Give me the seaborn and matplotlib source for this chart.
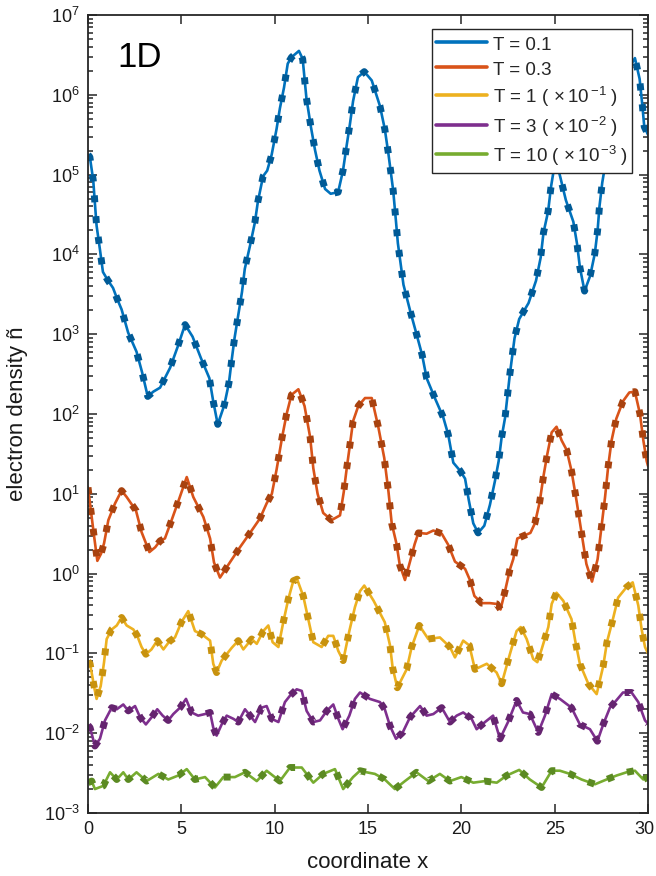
import numpy as np
import pandas as pd
import matplotlib
matplotlib.use("Agg")
import matplotlib.pyplot as plt
import seaborn as sns
from matplotlib.transforms import ScaledTranslation
from matplotlib.ticker import NullFormatter, FixedLocator, LogFormatterSciNotation

# ---- data: log10 of electron density along the 1D coordinate ----
x_T01 = [0.0, 0.1, 0.28, 0.37, 0.46, 0.64, 0.8, 1.05, 1.34, 1.55, 1.8, 2.15, 2.6, 2.9, 3.2, 3.5, 3.86,
         4.4, 4.8, 5.2, 5.6, 6.05, 6.5, 6.7, 6.95, 7.3, 7.55, 7.7, 7.85, 8.05, 8.25, 8.4, 8.68, 8.94,
         9.1, 9.38, 9.6, 9.84, 10.1, 10.28, 10.5, 10.7, 10.9, 11.3, 11.5, 11.7, 11.94, 12.16, 12.4,
         12.7, 13.0, 13.4, 13.66, 13.86, 14.03, 14.2, 14.46, 14.8, 15.2, 15.64, 15.9, 16.1, 16.35,
         16.5, 16.6, 16.9, 17.25, 17.6, 17.9, 18.14, 18.6, 19.03, 19.3, 19.57, 19.93, 20.2, 20.4,
         20.64, 20.9, 21.23, 21.53, 21.8, 22.0, 22.16, 22.34, 22.6, 22.85, 23.1, 23.6, 24.0, 24.25,
         24.4, 24.65, 24.8, 25.05, 25.3, 25.6, 26.0, 26.2, 26.35, 26.6, 26.9, 27.15, 27.3, 27.4,
         27.55, 27.9, 28.4, 28.9, 29.3, 29.55, 29.7, 29.8, 30.0]
logn_T01 = [5.25, 5.22, 4.93, 4.64, 4.36, 4.06, 3.78, 3.68, 3.58, 3.45, 3.31, 3.02, 2.78, 2.52, 2.22,
            2.28, 2.33, 2.58, 2.84, 3.12, 2.97, 2.70, 2.45, 2.17, 1.87, 2.11, 2.39, 2.68, 2.95, 3.24,
            3.53, 3.82, 4.11, 4.40, 4.66, 4.98, 5.05, 5.25, 5.57, 5.83, 6.09, 6.39, 6.47, 6.55, 6.45,
            5.96, 5.6, 5.31, 5.05, 4.82, 4.76, 4.78, 5.05, 5.37, 5.63, 5.92, 6.22, 6.29, 6.18, 5.86,
            5.57, 5.25, 4.8, 4.41, 4.14, 3.62, 3.3, 3.0, 2.74, 2.45, 2.19, 1.96, 1.74, 1.39, 1.29,
            1.19, 0.92, 0.63, 0.51, 0.60, 0.86, 1.16, 1.41, 1.71, 1.95, 2.5, 2.95, 3.19, 3.39, 3.67,
            3.96, 4.27, 4.54, 4.84, 5.2, 4.97, 4.68, 4.41, 4.13, 3.84, 3.54, 3.73, 4.01, 4.3, 4.6,
            4.9, 5.4, 5.9, 6.3, 6.46, 6.2, 5.86, 5.6, 5.5]

x_T03 = [0.0, 0.32, 0.5, 0.7, 0.86, 1.09, 1.45, 1.8, 2.07, 2.57, 2.87, 3.29, 3.6, 3.86, 4.12, 4.48,
         4.89, 5.29, 5.64, 6.18, 6.54, 6.75, 7.07, 7.6, 8.14, 8.71, 9.21, 9.57, 9.85, 10.1, 10.4,
         10.64, 10.9, 11.27, 11.6, 11.9, 12.07, 12.3, 12.6, 13.05, 13.5, 13.7, 13.86, 14.03, 14.2,
         14.48, 14.84, 15.2, 15.55, 15.87, 16.1, 16.27, 16.53, 16.7, 16.98, 17.25, 17.5, 17.7,
         18.14, 18.5, 18.95, 19.3, 19.66, 20.2, 20.46, 20.7, 21.09, 21.53, 21.9, 22.1, 22.34, 22.6,
         22.78, 23.0, 23.3, 23.7, 23.94, 24.2, 24.4, 24.6, 24.84, 25.1, 25.37, 25.64, 25.9, 26.18,
         26.44, 26.7, 27.0, 27.3, 27.5, 27.7, 27.87, 28.05, 28.3, 28.66, 29.0, 29.3, 29.57, 29.75,
         29.93, 30.0]
logn_T03 = [1.08, 0.48, 0.16, 0.25, 0.38, 0.67, 0.88, 1.04, 0.96, 0.79, 0.52, 0.27, 0.33, 0.41, 0.44,
            0.67, 0.94, 1.21, 0.96, 0.71, 0.44, 0.14, -0.05, 0.14, 0.33, 0.52, 0.69, 0.88, 1.0, 1.3,
            1.71, 2.0, 2.24, 2.31, 2.1, 1.71, 1.32, 1.0, 0.76, 0.67, 0.73, 1.02, 1.32, 1.61, 1.91,
            2.1, 2.2, 2.2, 1.84, 1.45, 1.02, 0.63, 0.37, 0.11, -0.08, 0.15, 0.37, 0.51, 0.5, 0.54,
            0.5, 0.36, 0.15, 0.06, -0.08, -0.28, -0.37, -0.37, -0.38, -0.45, -0.22, 0.05, 0.18, 0.44,
            0.47, 0.51, 0.63, 0.9, 1.22, 1.49, 1.77, 1.84, 1.67, 1.55, 1.29, 0.9, 0.51, 0.12, -0.1,
            0.18, 0.57, 0.96, 1.35, 1.67, 1.94, 2.16, 2.27, 2.28, 2.0, 1.67, 1.41, 1.35]

x_T1 = [0.0, 0.11, 0.37, 0.46, 0.68, 0.86, 1.0, 1.27, 1.54, 1.8, 2.07, 2.43, 2.64, 2.87, 3.1, 3.4,
        3.71, 4.04, 4.36, 4.66, 5.0, 5.37, 5.73, 6.09, 6.54, 6.71, 6.89, 7.16, 7.7, 8.05, 8.32, 8.77,
        9.04, 9.39, 9.66, 9.89, 10.2, 10.46, 10.73, 11.0, 11.2, 11.53, 11.8, 12.07, 12.52, 12.87,
        13.14, 13.41, 13.67, 14.0, 14.3, 14.57, 14.8, 15.3, 15.9, 16.18, 16.32, 16.57, 17.07, 17.34,
        17.75, 18.23, 18.85, 19.39, 19.66, 20.1, 20.43, 20.73, 21.36, 21.89, 22.16, 22.6, 22.96,
        23.18, 23.5, 23.85, 24.07, 24.3, 24.66, 24.84, 25.1, 25.46, 25.9, 26.1, 26.35, 26.8, 27.25,
        27.6, 27.8, 28.1, 28.4, 28.85, 29.18, 29.48, 29.66, 29.84, 30.0]
logn_T1 = [-0.1, -0.13, -0.47, -0.57, -0.41, -0.11, 0.18, 0.3, 0.35, 0.45, 0.35, 0.3, 0.22, 0.08,
           -0.01, 0.05, 0.16, 0.05, 0.15, 0.2, 0.39, 0.53, 0.28, 0.24, 0.16, -0.13, -0.24, -0.09,
           0.07, 0.16, 0.05, 0.18, 0.12, 0.28, 0.35, 0.14, 0.08, 0.39, 0.68, 0.91, 0.93, 0.72, 0.43,
           0.14, 0.08, 0.22, 0.22, 0.03, -0.09, 0.28, 0.58, 0.78, 0.85, 0.66, 0.39, 0.1, -0.18,
           -0.43, -0.2, 0.08, 0.35, 0.18, 0.2, 0.08, -0.05, 0.16, 0.1, -0.2, -0.13, -0.24, -0.38,
           -0.01, 0.28, 0.33, 0.18, -0.07, -0.11, 0.05, 0.33, 0.62, 0.76, 0.66, 0.43, 0.16, -0.13,
           -0.38, -0.51, -0.16, 0.14, 0.41, 0.7, 0.83, 0.89, 0.6, 0.3, 0.08, 0.0]

x_T3 = [0.0, 0.11, 0.37, 0.64, 0.91, 1.27, 1.54, 1.89, 2.16, 2.52, 2.79, 3.1, 3.41, 3.71, 4.0, 4.3,
        4.57, 4.93, 5.25, 5.55, 5.9, 6.27, 6.54, 6.71, 6.89, 7.16, 7.43, 7.79, 8.05, 8.41, 8.68,
        8.95, 9.3, 9.57, 9.84, 10.2, 10.55, 10.82, 11.18, 11.45, 11.71, 12.07, 12.43, 12.79, 13.14,
        13.41, 13.64, 14.0, 14.3, 14.57, 15.1, 15.64, 15.9, 16.18, 16.5, 16.86, 17.25, 17.79, 18.14,
        18.5, 18.95, 19.39, 19.75, 20.1, 20.55, 20.82, 21.27, 21.7, 22.07, 22.5, 22.96, 23.3, 23.67,
        24.12, 24.48, 24.84, 25.28, 25.9, 26.35, 26.89, 27.29, 27.6, 27.96, 28.3, 28.66, 29.12,
        29.48, 29.84, 30.0]
logn_T3 = [0.1, 0.07, -0.16, -0.07, 0.16, 0.32, 0.3, 0.36, 0.28, 0.34, 0.2, 0.11, 0.2, 0.3, 0.22,
           0.16, 0.24, 0.32, 0.43, 0.26, 0.22, 0.24, 0.26, 0.07, -0.03, 0.11, 0.22, 0.18, 0.14, 0.3,
           0.22, 0.14, 0.32, 0.34, 0.18, 0.14, 0.39, 0.47, 0.55, 0.53, 0.28, 0.14, 0.16, 0.28, 0.36,
           0.18, 0.05, 0.22, 0.43, 0.51, 0.43, 0.39, 0.3, 0.09, -0.07, 0.01, 0.2, 0.34, 0.22, 0.24,
           0.32, 0.14, 0.22, 0.26, 0.18, 0.05, 0.14, 0.22, -0.07, 0.14, 0.41, 0.26, 0.24, 0.01, 0.22,
           0.49, 0.43, 0.32, 0.11, 0.05, -0.1, 0.11, 0.32, 0.41, 0.51, 0.51, 0.39, 0.16, 0.12]

x_T10 = [0.0, 0.2, 0.37, 0.82, 1.18, 1.54, 1.89, 2.16, 2.6, 3.14, 3.77, 4.3, 4.84, 5.29, 5.73, 6.27,
         6.8, 7.25, 7.87, 8.41, 9.04, 9.57, 10.28, 10.82, 11.45, 12.07, 12.6, 13.23, 13.67, 14.2,
         14.57, 14.93, 15.37, 15.9, 16.44, 16.98, 17.6, 18.23, 18.85, 19.39, 20.0, 20.64, 21.27,
         21.9, 22.43, 23.1, 23.67, 24.3, 24.84, 25.28, 25.82, 26.44, 27.16, 27.78, 28.32, 28.85,
         29.3, 29.75, 30.0]
logn_T10 = [0.38, 0.4, 0.3, 0.34, 0.51, 0.42, 0.51, 0.42, 0.51, 0.4, 0.49, 0.42, 0.47, 0.55, 0.42,
            0.45, 0.32, 0.45, 0.45, 0.51, 0.4, 0.53, 0.4, 0.57, 0.57, 0.38, 0.49, 0.55, 0.3, 0.45,
            0.53, 0.51, 0.49, 0.42, 0.3, 0.4, 0.51, 0.4, 0.49, 0.4, 0.45, 0.38, 0.4, 0.38, 0.47,
            0.54, 0.42, 0.32, 0.53, 0.53, 0.49, 0.42, 0.36, 0.42, 0.47, 0.51, 0.53, 0.42, 0.45]

# display scale factors and legend texts
scales = [1.0, 1.0, 1e-1, 1e-2, 1e-3]
labels = ["T = 0.1", "T = 0.3",
          r"T = 1 ($\,\times$10$^{\,\mathregular{-1}}$$\;$)",
          r"T = 3 ($\,\times$10$^{\,\mathregular{-2}}$$\;$)",
          r"T = 10 ($\,\times$10$^{\,\mathregular{-3}}$$\;$)$\;\;$"]
line_colors = ["#0072BD", "#D95319", "#EDB120", "#7E2F8E", "#77AC30"]
dash_colors = ["#005A96", "#A8420F", "#C8920E", "#65246F", "#5B8A22"]

# axis ticks
x_ticks = [0, 5, 10, 15, 20, 25, 30]
decades = list(range(-3, 8))

xs = [x_T01, x_T03, x_T1, x_T3, x_T10]
logs = [logn_T01, logn_T03, logn_T1, logn_T3, logn_T10]

sns.set_theme(style="ticks")
plt.rcParams['font.family'] = ['Liberation Sans', 'DejaVu Sans']
plt.rcParams['mathtext.fontset'] = 'custom'
plt.rcParams['mathtext.rm'] = 'Liberation Sans'
plt.rcParams['mathtext.it'] = 'Liberation Sans:italic'
plt.rcParams['mathtext.bf'] = 'Liberation Sans:bold'

fig = plt.figure(figsize=(6.56, 8.76), dpi=100)
ax = fig.add_axes([88 / 656, 1 - 813 / 876, 560 / 656, 798 / 876])

for x, lg, s, lab, c, dc in zip(xs, logs, scales, labels, line_colors, dash_colors):
    df = pd.DataFrame({"x": x, "n": np.power(10.0, np.array(lg)) * s})
    sns.lineplot(data=df, x="x", y="n", ax=ax, color=c, lw=1.9, label=lab,
                 estimator=None, sort=False)
    sns.lineplot(data=df, x="x", y="n", ax=ax, color=dc, lw=5.0,
                 linestyle=(0, (1.0, 2.0)), dash_capstyle="butt",
                 estimator=None, sort=False)

ax.set_yscale("log")
ax.set_xlim(0, 30)
ax.set_ylim(1e-3, 1e7)
ax.xaxis.set_major_locator(FixedLocator(x_ticks))
major_y = [10.0 ** d for d in decades]
minor_y = [m * 10.0 ** d for d in decades[:-1] for m in range(2, 10)]
ax.yaxis.set_major_locator(FixedLocator(major_y))
ax.yaxis.set_major_formatter(LogFormatterSciNotation(base=10))
ax.yaxis.set_minor_locator(FixedLocator(minor_y))
ax.yaxis.set_minor_formatter(NullFormatter())

edge = "#262626"
for sp in ax.spines.values():
    sp.set_color(edge)
    sp.set_linewidth(1.3)
ax.tick_params(which="both", direction="in", top=True, right=True, colors=edge,
               labelcolor="#1a1a1a", labelsize=13, width=1.1)
ax.tick_params(which="major", length=6.5, pad=6)
ax.tick_params(which="minor", length=3.8)

ax.set_xlabel("coordinate x", fontsize=16, color="#1a1a1a", labelpad=9.5)
ax.set_ylabel("electron density ñ", fontsize=16, color="#1a1a1a")
ax.yaxis.set_label_coords(-0.107, 0.5)

ax.text(0.052, 0.947, "1D", transform=ax.transAxes, fontsize=25, ha="left", va="center",
        color="black")

leg = ax.legend(loc="upper right", bbox_to_anchor=((632 - 88) / 560, (813 - 29) / 798),
                borderaxespad=0, fontsize=13.5, frameon=True, fancybox=False, framealpha=1,
                edgecolor=edge, handlelength=2.7, handleheight=1.2, handletextpad=0.3,
                labelspacing=0.3, borderpad=0.25)
leg.get_frame().set_linewidth(1.0)
for h in leg.get_lines():
    h.set_linewidth(2.6)

# keep the last x tick label inside the figure edge
fig.canvas.draw()
last = ax.xaxis.get_major_ticks()[-1].label1
last.set_transform(last.get_transform() + ScaledTranslation(-4 / 100, 0, fig.dpi_scale_trans))

fig.savefig("out.png", dpi=100, facecolor="white")
